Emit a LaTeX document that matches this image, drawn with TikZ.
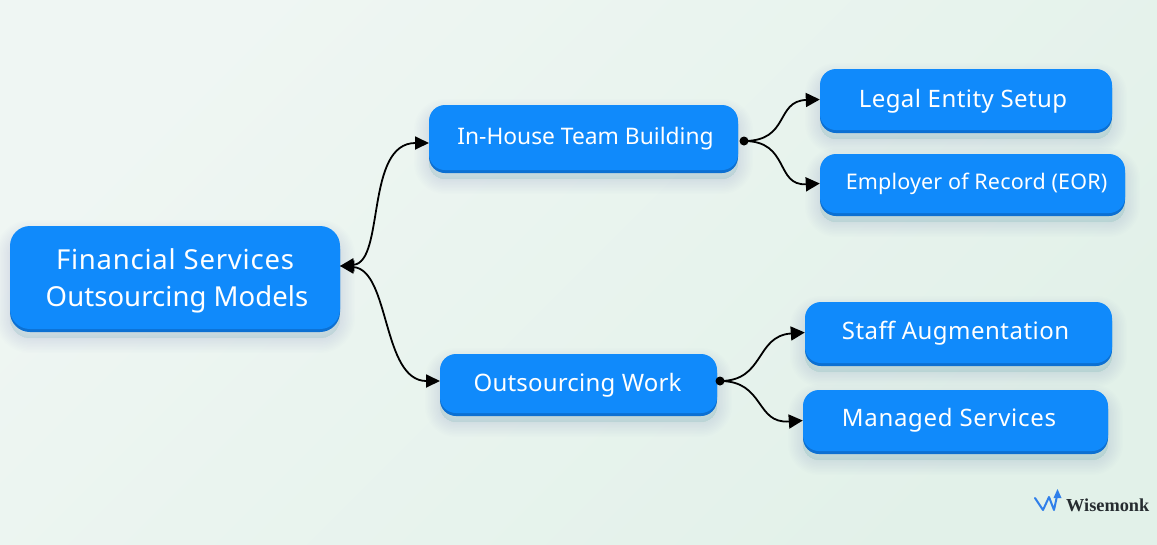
\documentclass[tikz,border=0pt]{standalone}
\usepackage{fontspec}
\setmainfont{Noto Sans}
\newfontfamily\logofont{Liberation Serif}
\usetikzlibrary{arrows.meta}
\definecolor{boxblue}{HTML}{108AFB}
\definecolor{edgeblue}{HTML}{0C70D2}
\definecolor{shadowtone}{HTML}{4A8DB5}
\definecolor{bgtl}{HTML}{EFF6F3}
\definecolor{bgbr}{HTML}{E2F1E9}
\definecolor{logoblue}{HTML}{2F7FEA}
\definecolor{logoink}{HTML}{262C30}
\newcommand{\lbl}[3]{{\addfontfeature{LetterSpace=#1}\rule{0pt}{#2}#3}}
\tikzset{
  x=1pt,y=-1pt,
  softlayer/.style={preaction={draw=shadowtone,fill=shadowtone,line width=#1,opacity=.012,transform canvas={yshift=-9pt}}},
  boxnode/.style={rounded corners=16pt,fill=boxblue,text=white,align=center,inner sep=0pt,
    font=\fontsize{24}{38}\selectfont,
    softlayer=30pt,softlayer=27pt,softlayer=24pt,softlayer=21pt,softlayer=18pt,softlayer=15pt,softlayer=12pt,softlayer=9pt,softlayer=6pt,softlayer=3pt,softlayer=1pt,
    preaction={draw=none,fill=edgeblue,transform canvas={yshift=-3pt}}},
  link/.style={line width=1.8pt,black},
  tip/.style={-{Triangle[length=14pt,width=14pt]}},
  dtip/.style={{Triangle[length=14pt,width=13pt]}-{Triangle[length=14pt,width=13pt]}},
  dot/.style={circle,fill=black,inner sep=0pt,minimum size=9pt}
}
\begin{document}
\begin{tikzpicture}
\useasboundingbox (0,0) rectangle (1157,544);
\fill[top color=bgtl,bottom color=bgbr,shading angle=45] (0,0) rectangle (1157,544);

\node[boxnode,minimum width=330pt,minimum height=103pt,rounded corners=20pt,font=\fontsize{27.5}{37}\selectfont] (root) at (175,277.5) {\lbl{2.8}{28pt}{Financial Services}\\\lbl{0.2}{0pt}{\hspace{4pt}Outsourcing Models}};
\node[boxnode,minimum width=309pt,minimum height=65pt,font=\fontsize{22.8}{38}\selectfont] (house) at (583.5,137.5) {\lbl{0}{19pt}{\hspace{4pt}In-House Team Building}};
\node[boxnode,minimum width=277pt,minimum height=59pt] (work) at (578.5,383.5) {\lbl{0.8}{22pt}{\hspace{-2pt}Outsourcing Work}};
\node[boxnode,minimum width=292pt,minimum height=61pt] (legal) at (966,99.5) {\lbl{1.8}{22pt}{\hspace{-6pt}Legal Entity Setup}};
\node[boxnode,minimum width=305pt,minimum height=59pt,font=\fontsize{21.5}{38}\selectfont] (eor) at (972.5,183.5) {\lbl{0.8}{18pt}{\hspace{8pt}Employer of Record (EOR)}};
\node[boxnode,minimum width=307pt,minimum height=61pt] (staff) at (958.5,332.5) {\lbl{2}{19pt}{\hspace{-6pt}Staff Augmentation}};
\node[boxnode,minimum width=305pt,minimum height=61pt] (managed) at (955.5,420.5) {\lbl{2.9}{18pt}{\hspace{-13pt}Managed Services}};

\coordinate (rootport) at (340,266);
\coordinate (houseport) at (429,143);
\coordinate (workport) at (440,381);
\node[dot] (housedot) at (744,141) {};
\node[dot] (workdot) at (720,381) {};

\draw[link,dtip] (rootport) .. controls (385,262) and (365,143) .. (houseport);
\draw[link,dtip] (rootport) .. controls (390,270) and (382,381) .. (workport);
\draw[link,tip] (housedot.center) .. controls (790,141) and (775,101) .. (legal.west);
\draw[link,tip] (housedot.center) .. controls (790,141) and (775,186) .. (eor.west);
\draw[link,tip] (workdot.center) .. controls (765,381) and (755,336) .. (staff.west);
\draw[link,tip] (workdot.center) .. controls (765,381) and (755,424) .. (managed.west);

\node[anchor=west,inner sep=0pt,text=logoink,font=\logofont\bfseries\fontsize{18.3}{20}\selectfont] (brand) at (1066,505) {Wisemonk};
\draw[logoblue,line width=2pt,line join=round,line cap=round] (1035,498) -- (1043,510) -- (1049,497) -- (1054,510) -- (1057,496);
\fill[logoblue] (1057.5,489) -- (1061.5,498) -- (1053.5,498) -- cycle;
\end{tikzpicture}
\end{document}
